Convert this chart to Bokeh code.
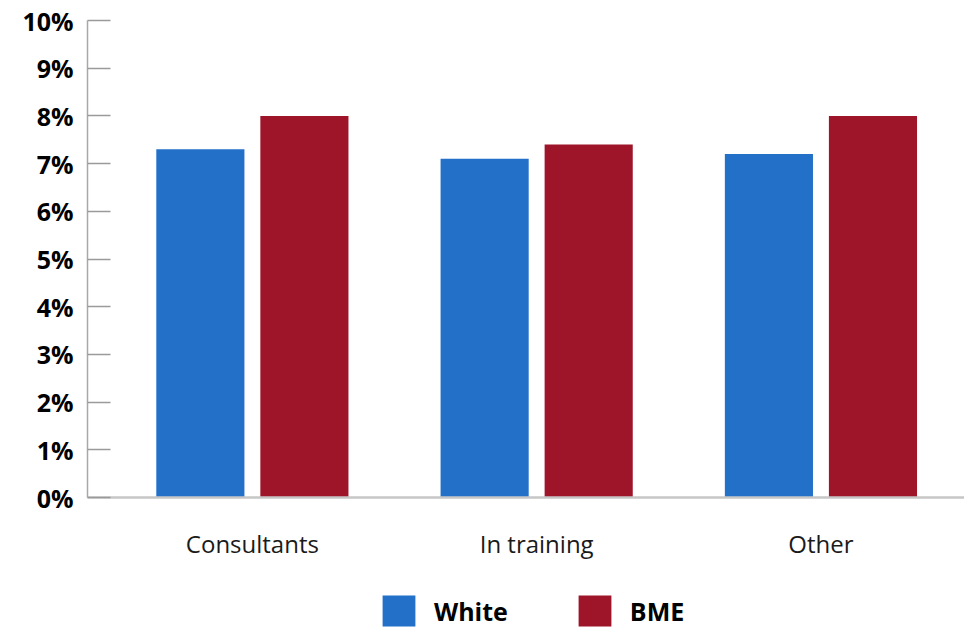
from bokeh.plotting import figure
from bokeh.layouts import column
from bokeh.models import FixedTicker, Legend, LegendItem, ColumnDataSource
from bokeh.embed import file_html
from bokeh.resources import INLINE

categories = ["Consultants", "In training", "Other"]
white = [7.3, 7.1, 7.2]
bme = [8.0, 7.4, 8.0]
series_names = ["White", "BME"]
y_ticks = [0, 1, 2, 3, 4, 5, 6, 7, 8, 9, 10]
y_labels = [f"{t}%" for t in y_ticks]

BLUE = "#2370C9"
RED = "#9E1529"
FONT = "Open Sans"

idx = list(range(len(categories)))
offset = 0.183
bar_w = 0.31

src_w = ColumnDataSource(dict(x=[i - offset for i in idx], top=white))
src_b = ColumnDataSource(dict(x=[i + offset for i in idx], top=bme))

p = figure(width=964, height=585, output_backend="svg", toolbar_location=None,
           x_range=(-0.580, 2.505), y_range=(0, 10),
           min_border_left=87, min_border_right=0, min_border_top=20, min_border_bottom=88)
p.outline_line_color = None
p.xgrid.visible = False
p.ygrid.visible = False
p.background_fill_color = "white"
p.border_fill_color = "white"

p.vbar(x="x", top="top", bottom=0, width=bar_w, source=src_w, fill_color=BLUE, line_color=None)
p.vbar(x="x", top="top", bottom=0, width=bar_w, source=src_b, fill_color=RED, line_color=None)

# y axis
ya = p.yaxis[0]
ya.ticker = FixedTicker(ticks=y_ticks)
ya.major_label_overrides = {t: l for t, l in zip(y_ticks, y_labels)}
ya.major_tick_in = 23
ya.major_tick_out = 0
ya.minor_tick_in = 0
ya.minor_tick_out = 0
ya.major_tick_line_color = "#9a9a9a"
ya.major_tick_line_width = 1.5
ya.axis_line_color = "#a8a8a8"
ya.axis_line_width = 1.5
ya.major_label_standoff = 14
ya.major_label_text_font = FONT
ya.major_label_text_font_style = "bold"
ya.major_label_text_font_size = "25px"
ya.major_label_text_color = "#000000"

# x axis
xa = p.xaxis[0]
xa.ticker = FixedTicker(ticks=idx)
xa.major_label_overrides = {i: c for i, c in zip(idx, categories)}
xa.major_tick_in = 0
xa.major_tick_out = 0
xa.minor_tick_in = 0
xa.minor_tick_out = 0
xa.axis_line_color = "#c6c6c6"
xa.axis_line_width = 2.5
xa.major_label_standoff = 29
xa.major_label_text_font = FONT
xa.major_label_text_font_size = "24px"
xa.major_label_text_color = "#1a1a1a"

# legend strip (same data sources, drawn off-range so only the legend shows)
lp = figure(width=964, height=45, output_backend="svg", toolbar_location=None,
            x_axis_type=None, y_axis_type=None, x_range=(100, 101), y_range=(100, 101),
            min_border=0)
lp.outline_line_color = None
lp.xgrid.visible = False
lp.ygrid.visible = False
lw = lp.vbar(x="x", top="top", width=bar_w, source=src_w, fill_color=BLUE, line_color=None)
lb = lp.vbar(x="x", top="top", width=bar_w, source=src_b, fill_color=RED, line_color=None)
legend = Legend(items=[LegendItem(label=series_names[0], renderers=[lw]),
                       LegendItem(label=series_names[1], renderers=[lb])],
                location=(291, 0), orientation="horizontal",
                glyph_width=41, glyph_height=39, label_height=39,
                label_standoff=15, spacing=66, padding=0, margin=0,
                border_line_color=None, background_fill_alpha=0,
                label_text_font=FONT, label_text_font_style="bold",
                label_text_font_size="25px", label_text_color="#000000")
lp.add_layout(legend, "center")

open("out.html", "w").write(file_html(column(p, lp, spacing=0), INLINE))
